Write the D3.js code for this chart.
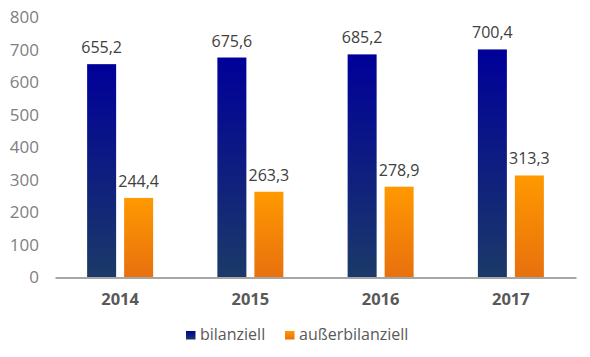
<!DOCTYPE html>
<html><head><meta charset="utf-8">
<script src="https://cdn.jsdelivr.net/npm/d3@7"></script>
<style>body{margin:0;background:#fff}svg{display:block;font-family:"Open Sans",sans-serif}</style>
</head><body><svg id="c" width="590" height="357"></svg>
<script>
const years = ["2014","2015","2016","2017"];
const seriesNames = ["bilanziell","außerbilanziell"];
const bilanziell = [655.2, 675.6, 685.2, 700.4];
const ausserbilanziell = [244.4, 263.3, 278.9, 313.3];
const yTicks = [0,100,200,300,400,500,600,700,800];

const svg = d3.select("#c");
const defs = svg.append("defs");
function grad(id, top, bottom){
  const g = defs.append("linearGradient").attr("id",id).attr("x1",0).attr("y1",0).attr("x2",0).attr("y2",1);
  g.append("stop").attr("offset","0%").attr("stop-color",top);
  g.append("stop").attr("offset","100%").attr("stop-color",bottom);
}
grad("gb","#000099","#1b3a68");
grad("go","#ff9900","#e8700e");
const fills = ["url(#gb)","url(#go)"];
const legendFills = ["url(#gb)","url(#go)"];

const y = d3.scaleLinear().domain([0,800]).range([277.5,17]);
const x0 = d3.scaleBand().domain(years).range([55,576]);
const x1 = d3.scaleBand().domain(seriesNames).range([-33,33]).paddingInner(0.216);

const yAxis = svg.append("g").attr("transform","translate(39,0)")
  .call(d3.axisLeft(y).tickValues(yTicks).tickSize(0).tickPadding(0).tickFormat(d3.format("d")));
yAxis.select(".domain").remove();
yAxis.selectAll("text").attr("fill","#808080").style("font-size","17px").style("font-family","'Open Sans',sans-serif");

const data = [bilanziell, ausserbilanziell];
const groups = svg.append("g");
seriesNames.forEach((s,si)=>{
  years.forEach((yr,i)=>{
    const v = data[si][i];
    const cx = x0(yr)+x0.bandwidth()/2;
    groups.append("rect")
      .attr("x", cx + x1(s)).attr("width", x1.bandwidth())
      .attr("y", y(v)).attr("height", y(0)-y(v))
      .attr("fill", fills[si]);
    groups.append("text")
      .attr("x", cx + x1(s) + x1.bandwidth()/2).attr("y", y(v)-11)
      .attr("text-anchor","middle").attr("fill","#404040")
      .style("font-size","16px")
      .text(d3.format(".1f")(v).replace(".",","));
  });
});

const xAxis = svg.append("g").attr("transform","translate(0,"+y(0)+")")
  .call(d3.axisBottom(x0).tickSize(0).tickPadding(16));
xAxis.select(".domain").attr("stroke","#a6a6a6").attr("stroke-width",2);
xAxis.selectAll("text").attr("fill","#595959").style("font-size","16.5px").style("font-weight","bold").style("font-family","'Open Sans',sans-serif");

const legX = [186, 285];
seriesNames.forEach((s,i)=>{
  svg.append("rect").attr("x",legX[i]).attr("y",331).attr("width",9.5).attr("height",8.5).attr("fill",legendFills[i]);
  svg.append("text").attr("x",legX[i]+14).attr("y",340).attr("fill","#595959").style("font-size","16px").text(s);
});
</script></body></html>
